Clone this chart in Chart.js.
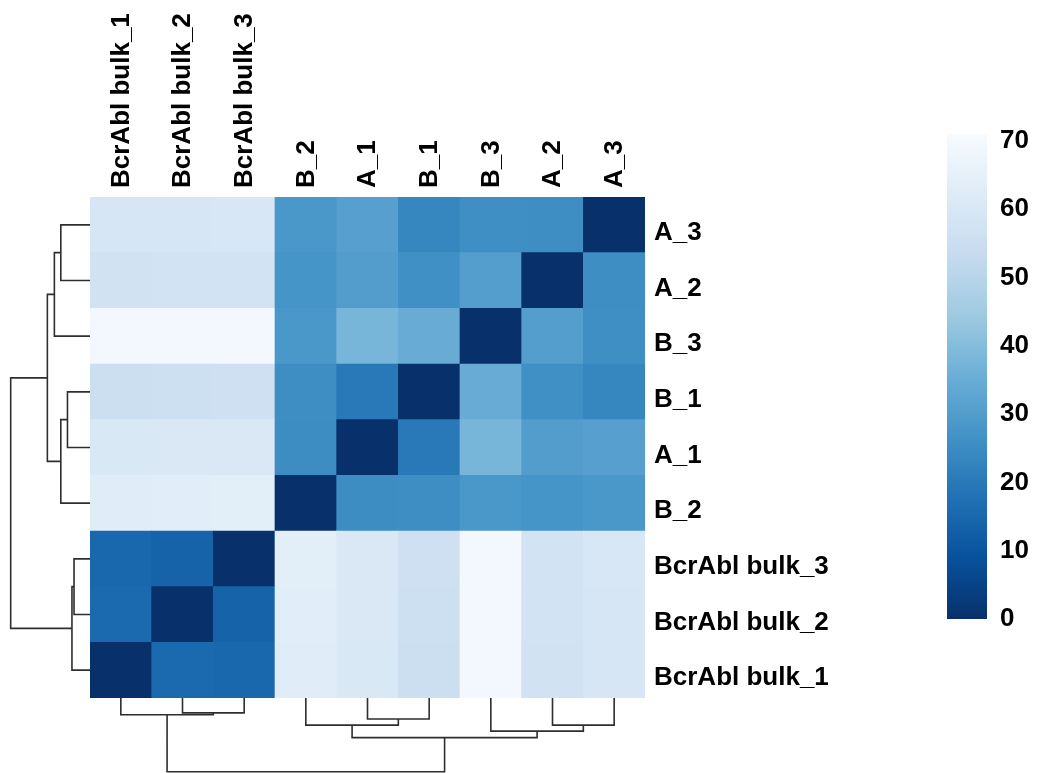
<!DOCTYPE html>
<html>
<head>
<meta charset="utf-8">
<title>Sample distance heatmap</title>
<script src="https://cdn.jsdelivr.net/npm/chart.js@4.4.1/dist/chart.umd.min.js"></script>
<style>
  html, body { margin: 0; padding: 0; background: #fff; }
  #page { position: relative; width: 1037px; height: 773px; overflow: hidden; }
  .box { position: absolute; }
</style>
</head>
<body>
<div id="page">
  <div class="box" style="left:0;top:0;"><canvas id="rowTree" width="90" height="698"></canvas></div>
  <div class="box" style="left:90px;top:0;"><canvas id="heat" width="745" height="698"></canvas></div>
  <div class="box" style="left:90px;top:698px;"><canvas id="colTree" width="555" height="75"></canvas></div>
  <div class="box" style="left:947px;top:0;"><canvas id="legend" width="90" height="773"></canvas></div>
</div>
<script>
'use strict';

// leaf order of the clustering (left -> right, bottom -> top)
var samples = ['BcrAbl bulk_1', 'BcrAbl bulk_2', 'BcrAbl bulk_3', 'B_2', 'A_1', 'B_1', 'B_3', 'A_2', 'A_3'];

// distances, one row per sample, columns in the same order
var distBulk1 = [0, 15.6, 14.9, 63.0, 60.2, 55.6, 69.2, 57.4, 59.3];
var distBulk2 = [15.6, 0, 14.0, 63.3, 60.5, 56.0, 69.4, 57.6, 59.6];
var distBulk3 = [14.9, 14.0, 0, 63.6, 60.6, 56.2, 69.6, 57.8, 59.8];
var distB2 = [63.0, 63.3, 63.6, 0, 25.2, 25.6, 28.3, 27.5, 28.3];
var distA1 = [60.2, 60.5, 60.6, 25.2, 0, 19.9, 37.6, 30.1, 30.9];
var distB1 = [55.6, 56.0, 56.2, 25.6, 19.9, 0, 34.8, 26.0, 23.3];
var distB3 = [69.2, 69.4, 69.6, 28.3, 37.6, 34.8, 0, 30.3, 25.7];
var distA2 = [57.4, 57.6, 57.8, 27.5, 30.1, 26.0, 30.3, 0, 25.5];
var distA3 = [59.3, 59.6, 59.8, 28.3, 30.9, 23.3, 25.7, 25.5, 0];

// hclust style merges (negative = leaf number, positive = earlier merge)
var mergeLeft = [-2, -1, -5, -8, -4, -7, 5, 2];
var mergeRight = [-3, 1, -6, -9, 3, 4, 6, 7];
var mergeHeight = [13.9, 15.7, 19.6, 25.4, 25.4, 31.0, 37.1, 69.0];

// colour key
var legendTicks = [0, 10, 20, 30, 40, 50, 60, 70];
var legendMax = 71;
var blues = ['#08306B', '#08519C', '#2171B5', '#4292C6', '#6BAED6', '#9ECAE1', '#C6DBEF', '#DEEBF7', '#F7FBFF'];

var distRows = [distBulk1, distBulk2, distBulk3, distB2, distA1, distB1, distB3, distA2, distA3];

var FONT = { family: "'Liberation Sans', Arial, sans-serif", size: 26, weight: 'bold' };
var LINE = '#2e2e2e';

function hexRgb(h) {
  return [parseInt(h.substr(1, 2), 16), parseInt(h.substr(3, 2), 16), parseInt(h.substr(5, 2), 16)];
}

function colorFor(v) {
  var t = Math.max(0, Math.min(1, v / legendMax)) * (blues.length - 1);
  var i = Math.min(Math.floor(t), blues.length - 2);
  var f = t - i;
  var a = hexRgb(blues[i]), b = hexRgb(blues[i + 1]);
  var c = a.map(function (x, k) { return Math.round(x + (b[k] - x) * f); });
  return 'rgb(' + c.join(',') + ')';
}

// no extra room for labels hanging over the plot edges
function noPadding(s) {
  s.paddingLeft = 0; s.paddingRight = 0; s.paddingTop = 0; s.paddingBottom = 0;
}

// ---- heatmap: one floating bar dataset per row
var heatSets = distRows.map(function (row, r) {
  return {
    label: samples[r],
    data: samples.map(function () { return [r, r + 1]; }),
    backgroundColor: row.map(colorFor),
    borderWidth: 0,
    grouped: false,
    barPercentage: 1,
    categoryPercentage: 1
  };
});

new Chart(document.getElementById('heat').getContext('2d'), {
  type: 'bar',
  data: { labels: samples, datasets: heatSets },
  options: {
    responsive: false,
    animation: false,
    layout: { padding: 0 },
    plugins: { legend: { display: false }, tooltip: { enabled: false } },
    scales: {
      x: {
        position: 'top',
        grid: { display: false, drawTicks: false },
        border: { display: false },
        ticks: {
          color: '#000', font: FONT, padding: 9, minRotation: 90, maxRotation: 90,
          autoSkip: false, labelOffset: 32
        },
        afterFit: function (s) { s.height = 197; noPadding(s); }
      },
      y: {
        position: 'right',
        min: 0,
        max: samples.length,
        grid: { display: false, drawTicks: false },
        border: { display: false },
        afterBuildTicks: function (s) {
          s.ticks = samples.map(function (n, i) { return { value: i + 0.5 }; });
        },
        ticks: {
          color: '#000', font: FONT, padding: 9, autoSkip: false, labelOffset: 8,
          callback: function (v) { return samples[Math.round(v - 0.5)]; }
        },
        afterFit: function (s) { s.width = 190; noPadding(s); }
      }
    }
  }
});

// ---- dendrograms built from the merge table
function treeSegments() {
  var pos = [], hgt = [];
  function node(id) {
    if (id < 0) return { p: -id - 0.5, h: 0 };
    return { p: pos[id - 1], h: hgt[id - 1] };
  }
  var segs = [];
  for (var m = 0; m < mergeHeight.length; m++) {
    var a = node(mergeLeft[m]), b = node(mergeRight[m]), h = mergeHeight[m];
    pos.push((a.p + b.p) / 2);
    hgt.push(h);
    segs.push([[a.p, a.h], [a.p, h], [b.p, h], [b.p, b.h]]);
  }
  return segs;
}

var segs = treeSegments();

function treeSets(flip) {
  return segs.map(function (s) {
    return {
      data: s.map(function (pt) { return flip ? { x: pt[1], y: pt[0] } : { x: pt[0], y: pt[1] }; }),
      showLine: true,
      pointRadius: 0,
      borderColor: LINE,
      borderWidth: 1.6,
      clip: false
    };
  });
}

var plainOpts = {
  responsive: false,
  animation: false,
  plugins: { legend: { display: false }, tooltip: { enabled: false } }
};

// row tree, to the left of the heatmap
new Chart(document.getElementById('rowTree').getContext('2d'), {
  type: 'scatter',
  data: { datasets: treeSets(true) },
  options: Object.assign({}, plainOpts, {
    layout: { padding: { top: 197 } },
    scales: {
      x: { type: 'linear', display: false, reverse: true, min: 0, max: 78.3 },
      y: { type: 'linear', display: false, min: 0, max: samples.length }
    }
  })
});

// column tree, under the heatmap
new Chart(document.getElementById('colTree').getContext('2d'), {
  type: 'scatter',
  data: { datasets: treeSets(false) },
  options: Object.assign({}, plainOpts, {
    layout: { padding: 0 },
    scales: {
      x: { type: 'linear', display: false, min: 0, max: samples.length },
      y: { type: 'linear', display: false, reverse: true, min: 0, max: 70.2 }
    }
  })
});

// ---- colour key
new Chart(document.getElementById('legend').getContext('2d'), {
  type: 'bar',
  data: {
    labels: ['key'],
    datasets: [{
      data: [[0, legendMax]],
      barPercentage: 1,
      categoryPercentage: 1,
      borderWidth: 0,
      backgroundColor: function (c) {
        var area = c.chart.chartArea;
        if (!area) return blues[0];
        var g = c.chart.ctx.createLinearGradient(0, area.bottom, 0, area.top);
        blues.forEach(function (col, i) { g.addColorStop(i / (blues.length - 1), col); });
        return g;
      }
    }]
  },
  options: Object.assign({}, plainOpts, {
    layout: { padding: { top: 134, bottom: 154 } },
    scales: {
      x: { display: false },
      y: {
        position: 'right',
        min: 0,
        max: legendMax,
        grid: { display: false, drawTicks: false },
        border: { display: false },
        afterBuildTicks: function (s) {
          s.ticks = legendTicks.map(function (v) { return { value: v }; });
        },
        ticks: { color: '#000', font: FONT, padding: 13 },
        afterFit: function (s) { s.width = 50; noPadding(s); }
      }
    }
  })
});
</script>
</body>
</html>
